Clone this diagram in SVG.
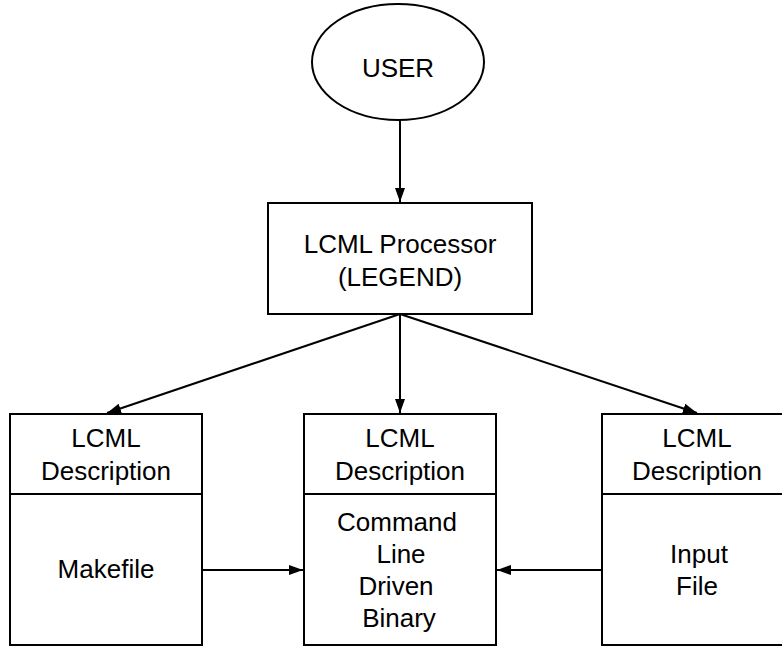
<svg xmlns="http://www.w3.org/2000/svg" width="782" height="646" viewBox="0 0 782 646">
<style>
.s{fill:#fff;stroke:#000;stroke-width:2}
.t{font-family:"Liberation Sans",Arial,sans-serif;font-size:26px;fill:#000;text-anchor:middle}
.c{fill:none;stroke:#000;stroke-width:2}
</style>
<defs>
<marker id="a" markerUnits="userSpaceOnUse" markerWidth="16" markerHeight="12" refX="14" refY="6" orient="auto">
<path d="M0,1 L14,6 L0,11 Z" fill="#000"/>
</marker>
</defs>
<rect width="782" height="646" fill="#fff"/>
<g id="connectors">
<line class="c" x1="400" y1="120" x2="400" y2="202" marker-end="url(#a)"/>
<line class="c" x1="400" y1="314" x2="107" y2="413" marker-end="url(#a)"/>
<line class="c" x1="400" y1="314" x2="400" y2="413" marker-end="url(#a)"/>
<line class="c" x1="400" y1="314" x2="697" y2="413" marker-end="url(#a)"/>
<line class="c" x1="202" y1="570" x2="303" y2="570" marker-end="url(#a)"/>
<line class="c" x1="602" y1="570" x2="497" y2="570" marker-end="url(#a)"/>
</g>
<g id="user">
<ellipse class="s" cx="398" cy="62" rx="86" ry="58"/>
<text class="t" x="398" y="77">USER</text>
</g>
<g id="processor">
<rect class="s" x="268" y="203" width="264" height="111"/>
<text class="t" x="400" y="253">LCML Processor</text>
<text class="t" x="400" y="286">(LEGEND)</text>
</g>
<g id="makefile">
<rect class="s" x="10" y="414" width="192" height="231"/>
<line class="c" x1="10" y1="494" x2="202" y2="494"/>
<text class="t" x="106" y="447">LCML</text>
<text class="t" x="106" y="480">Description</text>
<text class="t" x="106" y="578">Makefile</text>
</g>
<g id="binary">
<rect class="s" x="304" y="414" width="192" height="231"/>
<line class="c" x1="304" y1="494" x2="496" y2="494"/>
<text class="t" x="400" y="447">LCML</text>
<text class="t" x="400" y="480">Description</text>
<text class="t" x="397" y="531">Command</text>
<text class="t" x="401" y="563">Line</text>
<text class="t" x="396" y="595">Driven</text>
<text class="t" x="399" y="627">Binary</text>
</g>
<g id="inputfile">
<rect class="s" x="602" y="414" width="192" height="231"/>
<line class="c" x1="602" y1="494" x2="794" y2="494"/>
<text class="t" x="697" y="447">LCML</text>
<text class="t" x="697" y="480">Description</text>
<text class="t" x="699" y="563">Input</text>
<text class="t" x="697" y="595">File</text>
</g>
</svg>
